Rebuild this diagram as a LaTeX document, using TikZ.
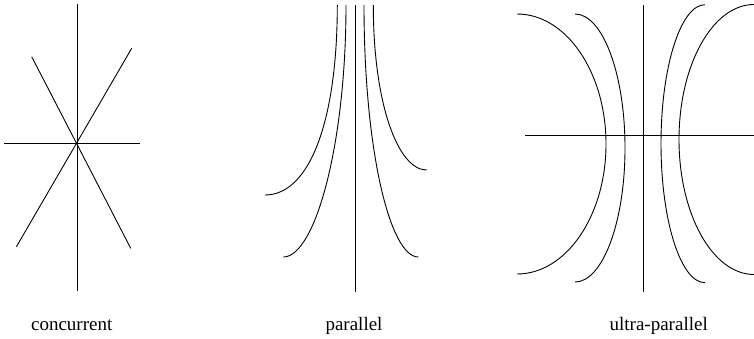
\documentclass[tikz,border=0pt]{standalone}
\usepackage{fontspec}
\setmainfont{Liberation Serif}
\usepackage{tikz}

\begin{document}
\begin{tikzpicture}[x=1pt, y=-1pt, line width=0.9pt,
    every node/.style={font=\fontsize{19}{22}\selectfont, anchor=base}]
      \useasboundingbox (0,0) rectangle (754,338);
      % Concurrent: four lines through P
      \coordinate (P) at (76.5,143.3);
      \draw (77,4) -- (77,291);
      \draw (4,143.3) -- (140,143.3);
      \draw (31.7,56.7) -- (P) -- (130.7,248.3);
      \draw (131.7,48.3) -- (P) -- (16.4,246.7);
      % Parallel: lines meeting at the top
      \draw (355.3,5) -- (355.3,291.7);
      \draw (337.3,5) .. controls (337.3,120) and (310,195) .. (265,195);
      \draw (346,5) .. controls (346,145) and (315,257) .. (283.3,257);
      \draw (364,5) .. controls (364,150) and (390,257) .. (418.3,257);
      \draw (373.3,5) .. controls (373.3,104) and (398,170) .. (426.7,170);
      % Ultra-parallel: arcs cut by the common perpendicular
      \draw (643.3,5) -- (643.3,291.7);
      \draw (525,135) -- (754,135);
      \draw (517,14) arc[start angle=-90, end angle=90, x radius=89, y radius=130];
      \draw (575,14) arc[start angle=-90, end angle=90, x radius=50, y radius=134];
      \draw (705,4.7) arc[start angle=-90, end angle=-270, x radius=44, y radius=139];
      \draw (754,4.5) arc[start angle=-90, end angle=-270, x radius=75, y radius=135];
      % Labels
      \node (lblConc) at (71.7,330) {concurrent};
      \node (lblPar) at (354,330) {parallel};
      \node (lblUltra) at (658.7,330) {ultra-parallel};
\end{tikzpicture}
\end{document}
